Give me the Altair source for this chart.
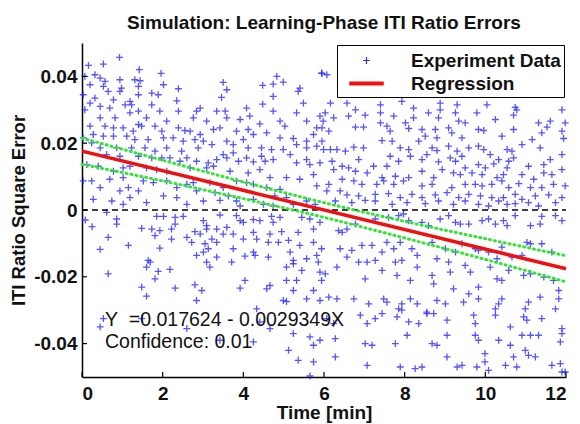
import altair as alt
import pandas as pd

# ---------------- data ----------------
upper_left = [
    (0.93, 0.0457), (0.53, 0.0437), (0.16, 0.0433), (1.42, 0.0420), (1.96, 0.0409), (0.32, 0.0405),
    (0.07, 0.0400), (0.45, 0.0395), (0.57, 0.0385), (0.94, 0.0390), (1.31, 0.0390), (1.44, 0.0387),
    (3.50, 0.0382), (4.83, 0.0400), (4.99, 0.0383), (5.94, 0.0409), (4.48, 0.0373), (0.20, 0.0375),
    (0.53, 0.0370), (0.65, 0.0355), (0.98, 0.0365), (0.94, 0.0355), (1.40, 0.0370), (2.02, 0.0375),
    (2.39, 0.0363), (3.59, 0.0360), (4.74, 0.0377), (5.40, 0.0365), (5.36, 0.0355), (1.73, 0.0350),
    (1.40, 0.0345), (0.03, 0.0345), (0.32, 0.0335), (0.78, 0.0330), (1.19, 0.0325), (1.89, 0.0345),
    (2.35, 0.0327), (3.46, 0.0337), (4.48, 0.0317), (4.74, 0.0340), (5.49, 0.0320), (0.20, 0.0320),
    (0.07, 0.0300), (0.45, 0.0310), (0.69, 0.0305), (1.07, 0.0315), (1.23, 0.0315), (1.40, 0.0296),
    (1.73, 0.0315), (1.93, 0.0296), (2.39, 0.0296), (2.84, 0.0296), (2.93, 0.0305), (3.34, 0.0296),
    (3.55, 0.0296), (4.08, 0.0305), (4.74, 0.0296), (5.32, 0.0291), (5.90, 0.0281), (5.98, 0.0266),
    (0.45, 0.0276), (0.82, 0.0276), (1.19, 0.0291), (1.40, 0.0256), (1.60, 0.0276), (2.10, 0.0266),
    (2.76, 0.0276), (3.09, 0.0266), (3.59, 0.0276), (3.92, 0.0271), (4.16, 0.0281), (4.41, 0.0258),
    (4.91, 0.0266), (5.03, 0.0251), (5.57, 0.0266), (5.82, 0.0246), (0.20, 0.0251), (0.57, 0.0251),
    (0.78, 0.0246), (1.02, 0.0246), (1.27, 0.0236), (1.48, 0.0251), (1.81, 0.0251), (1.98, 0.0236),
    (2.39, 0.0246), (2.55, 0.0238), (2.68, 0.0236), (2.93, 0.0226), (3.26, 0.0241), (3.42, 0.0246),
    (3.83, 0.0236), (4.12, 0.0241), (4.25, 0.0226), (4.58, 0.0231), (4.91, 0.0216), (5.24, 0.0214),
    (5.57, 0.0206), (5.74, 0.0226), (0.03, 0.0216), (0.28, 0.0226), (0.53, 0.0221), (0.78, 0.0221),
    (1.11, 0.0221), (1.31, 0.0211), (1.64, 0.0211), (2.02, 0.0216), (2.26, 0.0216), (2.51, 0.0206),
    (2.80, 0.0211), (3.01, 0.0206), (3.22, 0.0196), (3.59, 0.0206), (3.75, 0.0196), (4.00, 0.0211),
    (4.12, 0.0186), (4.45, 0.0186), (4.70, 0.0181), (4.99, 0.0181), (5.32, 0.0196), (5.57, 0.0186),
    (5.82, 0.0191), (0.24, 0.0201), (0.45, 0.0186), (0.86, 0.0186), (1.23, 0.0186), (1.56, 0.0186),
    (1.81, 0.0176), (2.10, 0.0186), (2.47, 0.0176), (2.60, 0.0156), (2.88, 0.0186), (3.50, 0.0166),
    (3.75, 0.0171), (4.08, 0.0156), (4.45, 0.0161), (4.74, 0.0151), (5.16, 0.0166), (5.57, 0.0151),
    (5.90, 0.0141), (0.61, 0.0166), (0.94, 0.0161), (1.40, 0.0161), (1.73, 0.0156), (1.98, 0.0156),
    (2.18, 0.0156), (2.43, 0.0146), (2.84, 0.0146), (3.13, 0.0141), (3.34, 0.0151), (3.59, 0.0156),
    (3.88, 0.0146), (4.25, 0.0144), (4.54, 0.0146), (5.32, 0.0141), (5.65, 0.0136), (0.12, 0.0136),
    (0.40, 0.0131), (0.78, 0.0116), (1.02, 0.0126), (1.19, 0.0131), (1.60, 0.0126), (1.85, 0.0121),
    (2.10, 0.0116), (2.68, 0.0126), (3.09, 0.0126), (3.26, 0.0131), (3.67, 0.0116), (4.12, 0.0111),
    (4.41, 0.0121), (4.66, 0.0097), (5.07, 0.0097), (5.40, 0.0092), (5.74, 0.0106), (0.03, 0.0087),
    (0.24, 0.0087), (0.69, 0.0092), (1.02, 0.0097), (1.15, 0.0067), (1.52, 0.0087), (1.77, 0.0082),
    (2.10, 0.0087), (2.35, 0.0067), (2.60, 0.0077), (2.76, 0.0082), (3.17, 0.0082), (3.50, 0.0067),
    (3.83, 0.0087), (4.08, 0.0082), (4.25, 0.0077), (4.58, 0.0067), (4.91, 0.0062), (5.82, 0.0072),
    (0.45, 0.0067), (0.94, 0.0057), (1.19, 0.0037), (1.40, 0.0057), (2.02, 0.0042), (2.35, 0.0037),
    (2.84, 0.0057), (3.30, 0.0052), (3.63, 0.0042), (3.83, 0.0027), (4.25, 0.0032), (4.78, 0.0042),
    (5.07, 0.0037), (5.57, 0.0027), (0.28, 0.0032), (0.74, 0.0027), (1.02, 0.0017), (1.60, 0.0022),
    (2.60, 0.0017), (3.01, 0.0027), (3.42, 0.0029), (3.92, 0.0012), (4.50, 0.0017), (4.74, 0.0012),
    (5.24, 0.0017), (5.78, 0.0017),
]

upper_right = [
    (5.95, 0.0410), (6.07, 0.0405), (6.16, 0.0320), (6.57, 0.0320), (7.40, 0.0315), (7.93, 0.0325),
    (8.88, 0.0320), (9.30, 0.0315), (10.04, 0.0315), (10.74, 0.0307), (11.90, 0.0300), (6.03, 0.0291),
    (6.24, 0.0276), (6.78, 0.0300), (6.61, 0.0281), (7.02, 0.0284), (7.40, 0.0291), (7.40, 0.0261),
    (7.73, 0.0281), (8.22, 0.0305), (8.22, 0.0276), (8.59, 0.0291), (8.84, 0.0276), (8.88, 0.0300),
    (9.26, 0.0291), (9.34, 0.0266), (9.50, 0.0261), (9.79, 0.0291), (10.25, 0.0271), (10.70, 0.0284),
    (10.78, 0.0300), (11.32, 0.0261), (11.61, 0.0266), (11.98, 0.0261), (5.95, 0.0246), (6.12, 0.0236),
    (6.78, 0.0248), (6.98, 0.0248), (7.56, 0.0251), (8.02, 0.0261), (7.64, 0.0236), (8.10, 0.0244),
    (8.43, 0.0241), (8.51, 0.0221), (8.76, 0.0241), (8.80, 0.0216), (9.09, 0.0246), (9.17, 0.0231),
    (9.42, 0.0216), (9.83, 0.0241), (9.96, 0.0238), (10.41, 0.0221), (10.70, 0.0241), (11.16, 0.0211),
    (11.40, 0.0231), (11.53, 0.0248), (11.90, 0.0236), (11.94, 0.0214), (5.95, 0.0206), (5.99, 0.0181),
    (6.16, 0.0181), (6.32, 0.0181), (6.53, 0.0176), (6.74, 0.0188), (6.98, 0.0186), (7.44, 0.0208),
    (7.69, 0.0206), (7.89, 0.0186), (8.10, 0.0181), (8.35, 0.0206), (8.68, 0.0186), (8.80, 0.0178),
    (9.09, 0.0191), (9.30, 0.0176), (9.59, 0.0186), (9.83, 0.0191), (9.96, 0.0181), (10.12, 0.0166),
    (10.54, 0.0181), (10.66, 0.0176), (10.91, 0.0196), (11.36, 0.0186), (11.90, 0.0166), (6.20, 0.0146),
    (6.45, 0.0131), (6.61, 0.0126), (6.86, 0.0151), (7.23, 0.0131), (7.56, 0.0131), (7.64, 0.0161),
    (7.85, 0.0146), (8.14, 0.0161), (8.43, 0.0151), (8.55, 0.0166), (8.84, 0.0144), (9.13, 0.0156),
    (9.26, 0.0146), (9.42, 0.0161), (9.50, 0.0126), (9.83, 0.0136), (10.00, 0.0126), (10.21, 0.0138),
    (10.33, 0.0151), (10.58, 0.0146), (10.70, 0.0156), (11.07, 0.0131), (11.45, 0.0136), (11.61, 0.0151),
    (11.65, 0.0106), (6.24, 0.0121), (6.78, 0.0116), (7.07, 0.0111), (7.44, 0.0097), (7.77, 0.0101),
    (8.10, 0.0097), (8.43, 0.0116), (8.72, 0.0097), (8.93, 0.0121), (9.21, 0.0111), (9.38, 0.0106),
    (9.67, 0.0111), (9.92, 0.0106), (10.29, 0.0097), (10.45, 0.0106), (10.54, 0.0126), (10.91, 0.0106),
    (11.20, 0.0092), (11.45, 0.0111), (11.90, 0.0121), (6.12, 0.0077), (6.45, 0.0092), (6.74, 0.0087),
    (6.94, 0.0077), (7.31, 0.0077), (7.48, 0.0087), (7.73, 0.0077), (7.97, 0.0087), (8.43, 0.0072),
    (8.68, 0.0077), (9.17, 0.0067), (9.50, 0.0077), (9.75, 0.0077), (9.92, 0.0072), (10.16, 0.0077),
    (10.41, 0.0087), (10.58, 0.0067), (10.83, 0.0079), (11.12, 0.0067), (11.40, 0.0067), (11.69, 0.0077),
    (11.98, 0.0072), (6.07, 0.0057), (6.40, 0.0057), (6.57, 0.0045), (6.86, 0.0042), (7.27, 0.0047),
    (7.60, 0.0049), (7.89, 0.0037), (8.18, 0.0047), (8.43, 0.0037), (8.76, 0.0045), (9.05, 0.0052),
    (9.34, 0.0037), (9.59, 0.0047), (9.88, 0.0042), (10.16, 0.0037), (10.45, 0.0037), (10.74, 0.0047),
    (10.91, 0.0032), (11.24, 0.0042), (11.57, 0.0045), (11.90, 0.0037), (6.28, 0.0027), (6.69, 0.0022),
    (7.02, 0.0029), (7.27, 0.0027), (7.69, 0.0017), (8.06, 0.0022), (8.51, 0.0019), (8.84, 0.0027),
    (9.21, 0.0017), (9.50, 0.0027), (9.83, 0.0017), (10.08, 0.0012), (10.33, 0.0027), (10.54, 0.0017),
    (10.74, 0.0019), (11.07, 0.0022), (11.32, 0.0012), (11.74, 0.0022),
]

lower_left = [
    (0.61, -0.0007), (0.86, -0.0027), (0.86, -0.0042), (1.85, -0.0019), (2.02, -0.0019), (2.31, -0.0022),
    (2.51, -0.0019), (2.31, -0.0042), (3.01, -0.0032), (3.09, -0.0047), (3.42, -0.0015), (3.83, -0.0017),
    (3.92, -0.0032), (4.00, -0.0037), (4.25, -0.0029), (4.41, -0.0032), (4.70, -0.0019), (4.74, -0.0037),
    (4.91, -0.0022), (5.45, -0.0022), (5.65, -0.0027), (5.90, -0.0037), (1.48, -0.0055), (1.73, -0.0057),
    (1.93, -0.0062), (2.22, -0.0057), (2.80, -0.0065), (2.93, -0.0072), (3.09, -0.0057), (3.34, -0.0057),
    (3.59, -0.0052), (3.75, -0.0072), (4.25, -0.0067), (4.66, -0.0072), (4.95, -0.0065), (5.36, -0.0067),
    (5.74, -0.0057), (0.65, -0.0082), (1.15, -0.0106), (1.81, -0.0077), (1.93, -0.0114), (2.22, -0.0087),
    (2.60, -0.0082), (2.72, -0.0097), (3.05, -0.0101), (3.22, -0.0087), (3.34, -0.0097), (3.50, -0.0072),
    (4.00, -0.0087), (4.33, -0.0087), (4.62, -0.0097), (4.87, -0.0097), (5.12, -0.0091), (5.40, -0.0106),
    (5.74, -0.0097), (5.94, -0.0116), (0.45, -0.0118), (1.64, -0.0151), (1.60, -0.0171), (1.69, -0.0156),
    (2.84, -0.0136), (3.01, -0.0126), (3.13, -0.0116), (3.34, -0.0141), (3.75, -0.0116), (4.04, -0.0138),
    (4.25, -0.0126), (4.29, -0.0136), (4.62, -0.0141), (5.16, -0.0126), (5.24, -0.0151), (5.57, -0.0146),
    (5.82, -0.0136), (5.86, -0.0156), (0.65, -0.0191), (1.89, -0.0184), (2.18, -0.0178), (3.09, -0.0156),
    (3.17, -0.0171), (3.71, -0.0156), (5.07, -0.0171), (5.45, -0.0181), (5.90, -0.0186), (5.24, -0.0161),
    (1.81, -0.0206), (4.04, -0.0211), (4.66, -0.0226), (5.07, -0.0211), (5.32, -0.0211), (5.94, -0.0211),
    (1.48, -0.0231), (2.31, -0.0234), (2.80, -0.0224), (2.97, -0.0241), (3.92, -0.0234), (4.58, -0.0236),
    (5.24, -0.0241), (5.74, -0.0241), (1.60, -0.0258), (2.84, -0.0271), (4.99, -0.0271), (5.07, -0.0274),
    (5.57, -0.0266), (5.90, -0.0271), (0.53, -0.0325), (0.45, -0.0350), (1.48, -0.0325), (2.60, -0.0355),
    (4.33, -0.0296), (4.41, -0.0335), (4.66, -0.0355), (5.24, -0.0370), (5.65, -0.0380), (5.74, -0.0405),
    (5.90, -0.0390), (3.42, -0.0390), (4.25, -0.0395), (5.12, -0.0420), (5.36, -0.0450), (5.74, -0.0455),
    (5.65, -0.0497), (0.08, -0.0030), (0.25, -0.0050),
]

lower_right = [
    (6.36, -0.0062), (6.45, -0.0067), (6.57, -0.0057), (6.78, -0.0042), (7.27, -0.0027), (7.60, -0.0022),
    (7.85, -0.0017), (7.97, -0.0012), (8.10, -0.0032), (8.43, -0.0037), (8.59, -0.0047), (8.88, -0.0027),
    (9.09, -0.0017), (9.26, -0.0037), (9.38, -0.0042), (9.59, -0.0042), (9.92, -0.0032), (10.08, -0.0027),
    (10.25, -0.0042), (10.45, -0.0032), (10.54, -0.0047), (10.74, -0.0017), (11.12, -0.0047), (11.36, -0.0042),
    (11.40, -0.0019), (11.74, -0.0017), (11.90, -0.0032), (6.40, -0.0116), (6.69, -0.0121), (6.57, -0.0141),
    (6.94, -0.0106), (7.19, -0.0106), (7.44, -0.0126), (7.56, -0.0097), (7.73, -0.0116), (7.89, -0.0097),
    (8.18, -0.0116), (8.31, -0.0136), (8.68, -0.0097), (8.80, -0.0146), (9.01, -0.0116), (9.26, -0.0126),
    (9.42, -0.0101), (9.75, -0.0116), (9.83, -0.0121), (10.08, -0.0126), (10.29, -0.0146), (10.41, -0.0111),
    (10.66, -0.0141), (10.91, -0.0136), (11.03, -0.0097), (11.12, -0.0101), (11.40, -0.0101), (11.65, -0.0126),
    (6.03, -0.0191), (6.32, -0.0171), (6.86, -0.0156), (7.07, -0.0156), (7.27, -0.0151), (7.02, -0.0206),
    (7.44, -0.0181), (7.77, -0.0156), (7.81, -0.0196), (8.14, -0.0211), (7.93, -0.0151), (8.31, -0.0171),
    (8.68, -0.0196), (8.72, -0.0221), (9.09, -0.0156), (9.13, -0.0186), (9.21, -0.0236), (9.50, -0.0166),
    (9.63, -0.0186), (9.83, -0.0231), (10.12, -0.0171), (10.29, -0.0206), (10.41, -0.0211), (10.58, -0.0181),
    (10.95, -0.0196), (11.12, -0.0191), (11.45, -0.0201), (11.69, -0.0211), (11.82, -0.0241), (6.12, -0.0261),
    (6.32, -0.0266), (6.74, -0.0266), (7.11, -0.0281), (7.48, -0.0266), (7.56, -0.0276), (7.85, -0.0296),
    (7.93, -0.0281), (8.14, -0.0266), (8.31, -0.0281), (8.55, -0.0306), (8.80, -0.0271), (9.01, -0.0281),
    (9.46, -0.0276), (9.59, -0.0251), (9.83, -0.0266), (10.25, -0.0296), (10.33, -0.0281), (10.41, -0.0266),
    (10.99, -0.0296), (11.07, -0.0276), (11.36, -0.0261), (11.82, -0.0266), (11.74, -0.0296), (6.07, -0.0325),
    (6.24, -0.0340), (6.90, -0.0315), (7.07, -0.0340), (7.27, -0.0325), (7.44, -0.0310), (7.81, -0.0320),
    (7.93, -0.0300), (8.10, -0.0335), (8.35, -0.0340), (8.55, -0.0310), (8.72, -0.0310), (9.05, -0.0330),
    (9.71, -0.0315), (9.75, -0.0340), (10.25, -0.0315), (10.62, -0.0350), (10.95, -0.0320), (11.03, -0.0330),
    (11.40, -0.0325), (11.90, -0.0355), (6.28, -0.0385), (7.02, -0.0400), (7.19, -0.0405), (7.77, -0.0400),
    (8.06, -0.0375), (8.68, -0.0400), (8.80, -0.0405), (9.05, -0.0375), (9.75, -0.0375), (9.83, -0.0390),
    (10.33, -0.0390), (10.62, -0.0405), (10.91, -0.0375), (11.12, -0.0375), (11.32, -0.0375), (11.86, -0.0395),
    (11.90, -0.0370), (6.28, -0.0440), (7.07, -0.0465), (7.89, -0.0470), (8.26, -0.0475), (8.43, -0.0470),
    (9.05, -0.0440), (9.30, -0.0470), (9.42, -0.0465), (9.79, -0.0470), (9.99, -0.0430), (9.99, -0.0455),
    (10.08, -0.0480), (10.50, -0.0465), (10.70, -0.0440), (10.78, -0.0470), (10.99, -0.0420), (11.07, -0.0435),
    (11.24, -0.0440), (11.65, -0.0465), (11.86, -0.0460), (11.90, -0.0485), (11.98, -0.0485),
]

# regression (from the equation printed on the chart)
reg_intercept = 0.017624
reg_slope = -0.0029349
reg_x = [0, 12]

# confidence band
band_x = [0, 2, 4, 6, 8, 10, 12]
band_upper = [0.0215, 0.0149, 0.0084, 0.0022, -0.0034, -0.0086, -0.0137]
band_lower = [0.0137, 0.0087, 0.0034, -0.0022, -0.0084, -0.0148, -0.0215]

zero_x = [0, 12]
x_ticks = [0, 2, 4, 6, 8, 10, 12]
y_ticks = [-0.04, -0.02, 0, 0.02, 0.04]

series_names = ["Experiment Data", "Regression"]
note_lines = ["Y\u00a0 =0.017624 - 0.0029349X", "Confidence: 0.01"]
note_x = [0.57, 0.57]
note_y = [-0.0346, -0.0412]

# ---------------- build tables ----------------
all_pts = upper_left + upper_right + lower_left + lower_right
pts = pd.DataFrame({"x": [p[0] for p in all_pts], "y": [p[1] for p in all_pts],
                    "series": series_names[0]})
reg = pd.DataFrame({"x": reg_x, "y": [reg_intercept + reg_slope * v for v in reg_x]})
band = pd.DataFrame({"x": band_x + band_x, "y": band_upper + band_lower,
                     "band": ["upper"] * len(band_x) + ["lower"] * len(band_x)})
zero = pd.DataFrame({"x": zero_x, "y": [0, 0]})
notes = pd.DataFrame({"x": note_x, "y": note_y, "t": note_lines})
xt = pd.DataFrame({"x": x_ticks})
yt = pd.DataFrame({"y": y_ticks})

W, H = 484, 334
FONT = "Liberation Sans"
INK = "#111111"

xscale = alt.Scale(domain=[0, 12], nice=False, zero=False)
yscale = alt.Scale(domain=[-0.05, 0.05], nice=False, zero=False)

x_axis = alt.Axis(values=x_ticks, format="d", title="Time [min]", ticks=False, tickSize=0,
                  grid=False, domainColor="#000", domainWidth=1.5, labelFont=FONT,
                  labelFontSize=19, labelFontWeight="bold", labelColor=INK, labelPadding=7,
                  titleFont=FONT, titleFontSize=19, titleFontWeight="bold", titleColor=INK,
                  titlePadding=0)
y_axis = alt.Axis(values=y_ticks, title="ITI Ratio Square Error", ticks=False, tickSize=0,
                  grid=False, domainColor="#000", domainWidth=1.5, labelFont=FONT,
                  labelFontSize=19, labelFontWeight="bold", labelColor=INK, labelPadding=5,
                  labelExpr="datum.value == 0 ? '0' : (datum.value < 0 ? '-' + format(-datum.value, '.2f') : format(datum.value, '.2f'))",
                  titleFont=FONT, titleFontSize=18.5, titleFontWeight="bold", titleColor=INK,
                  titlePadding=5)

X = alt.X("x:Q", scale=xscale, axis=x_axis)
Y = alt.Y("y:Q", scale=yscale, axis=y_axis)

# thin plus for the data; a bar of parallel strokes for the regression legend entry
plus_path = "M-0.3,0H0.3M0,-0.3V0.3"
line_path = "M-1.5,-0.12H1.5M-1.5,-0.04H1.5M-1.5,0.04H1.5M-1.5,0.12H1.5"

legend = alt.Legend(
    title=None, orient="none", legendX=255, legendY=2, padding=3,
    strokeColor="#000", fillColor="#ffffff", symbolSize=529, symbolOffset=14,
    symbolStrokeWidth=1.2, symbolOpacity=1,
    labelOffset=32, labelFont=FONT, labelFontSize=19, labelFontWeight="bold",
    labelColor=INK, rowPadding=0, labelExpr="datum.label + '\u00a0\u00a0'",
)

points = alt.Chart(pts).mark_point(filled=False, size=529, strokeWidth=1.3, opacity=0.8).encode(
    x=X, y=Y,
    color=alt.Color("series:N", scale=alt.Scale(domain=series_names, range=["#2c2cf5", "#ee1111"]),
                    legend=legend),
    shape=alt.Shape("series:N", scale=alt.Scale(domain=series_names, range=[plus_path, line_path]),
                    legend=legend),
)

zero_line = alt.Chart(zero).mark_line(color="#000", strokeWidth=1.5, strokeDash=[6, 4]).encode(x=X, y=Y)

band_lines = alt.Chart(band).mark_line(color="#33e433", strokeWidth=3, strokeDash=[1, 4],
                                       strokeCap="round", interpolate="monotone").encode(
    x=X, y=Y, detail="band:N")

reg_line = alt.Chart(reg).mark_line(color="#ee1111", strokeWidth=3.5).encode(x=X, y=Y)

note_text = alt.Chart(notes).mark_text(align="left", baseline="alphabetic", font=FONT,
                                       fontSize=19.5, color=INK).encode(x=X, y=Y, text="t:N")

y_tick_marks = alt.Chart(yt).mark_rule(color="#000", strokeWidth=1.2).encode(
    y=Y, x=alt.value(0), x2=alt.value(5))
x_tick_marks = alt.Chart(xt).mark_rule(color="#000", strokeWidth=1.2).encode(
    x=X, y=alt.value(H), y2=alt.value(H - 5))

chart = alt.layer(points, zero_line, band_lines, reg_line, note_text, y_tick_marks, x_tick_marks).properties(
    width=W, height=H,
    title=alt.TitleParams("Simulation: Learning-Phase ITI Ratio Errors", font=FONT, fontSize=19,
                          fontWeight="bold", color=INK, anchor="middle", offset=10),
    autosize=alt.AutoSizeParams(type="none"),
    padding={"left": 74, "top": 35, "right": 6, "bottom": 47},
).configure_view(stroke=None)

chart.save("out.html", embed_options={"renderer": "svg", "actions": False})
